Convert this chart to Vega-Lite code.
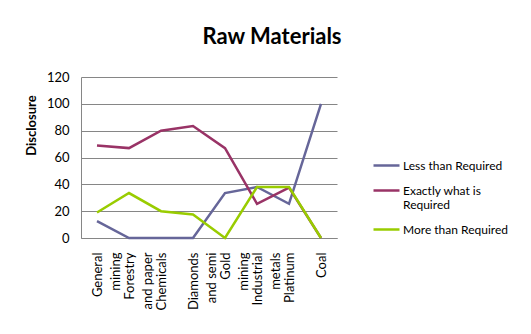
{
  "$schema": "https://vega.github.io/schema/vega-lite/v6.json",
  "width": 256,
  "height": 161,
  "autosize": {"type": "none"},
  "padding": {"left": 81, "top": 77, "right": 194, "bottom": 96},
  "background": "white",
  "title": {
    "text": "Raw Materials",
    "frame": "group",
    "anchor": "middle",
    "dx": 63,
    "offset": 22,
    "font": "Lato",
    "fontSize": 22,
    "fontWeight": "bold",
    "color": "#000000"
  },
  "data": {
    "values": [
      {"category": "General mining", "series": "Less than Required", "value": 12.5},
      {"category": "Forestry and paper", "series": "Less than Required", "value": 0},
      {"category": "Chemicals", "series": "Less than Required", "value": 0},
      {"category": "Diamonds and semi", "series": "Less than Required", "value": 0},
      {"category": "Gold mining", "series": "Less than Required", "value": 33.5},
      {"category": "Industrial metals", "series": "Less than Required", "value": 38},
      {"category": "Platinum", "series": "Less than Required", "value": 25.5},
      {"category": "Coal", "series": "Less than Required", "value": 100},

      {"category": "General mining", "series": "Exactly what is Required", "value": 69},
      {"category": "Forestry and paper", "series": "Exactly what is Required", "value": 67},
      {"category": "Chemicals", "series": "Exactly what is Required", "value": 80},
      {"category": "Diamonds and semi", "series": "Exactly what is Required", "value": 83.5},
      {"category": "Gold mining", "series": "Exactly what is Required", "value": 67},
      {"category": "Industrial metals", "series": "Exactly what is Required", "value": 25.5},
      {"category": "Platinum", "series": "Exactly what is Required", "value": 37.5},
      {"category": "Coal", "series": "Exactly what is Required", "value": 0},

      {"category": "General mining", "series": "More than Required", "value": 19},
      {"category": "Forestry and paper", "series": "More than Required", "value": 33.5},
      {"category": "Chemicals", "series": "More than Required", "value": 20},
      {"category": "Diamonds and semi", "series": "More than Required", "value": 17.5},
      {"category": "Gold mining", "series": "More than Required", "value": 0},
      {"category": "Industrial metals", "series": "More than Required", "value": 38},
      {"category": "Platinum", "series": "More than Required", "value": 38},
      {"category": "Coal", "series": "More than Required", "value": 0}
    ]
  },
  "mark": {"type": "line", "strokeWidth": 2.5, "strokeJoin": "miter"},
  "encoding": {
    "x": {
      "field": "category",
      "type": "nominal",
      "sort": null,
      "scale": {"type": "point", "padding": 0.5},
      "axis": {
        "title": null,
        "labelAngle": -90,
        "labelAlign": "right",
        "labelBaseline": "middle",
        "labelPadding": 14,
        "labelFont": "Lato",
        "labelFontSize": 13,
        "labelColor": "#000000",
        "labelLineHeight": 18,
        "labelExpr": "indexof(datum.value, ' ') > 0 ? [slice(datum.value, 0, indexof(datum.value, ' ')), slice(datum.value, indexof(datum.value, ' ') + 1)] : datum.value",
        "ticks": false,
        "grid": false,
        "domainColor": "#868686",
        "domainWidth": 1
      }
    },
    "y": {
      "field": "value",
      "type": "quantitative",
      "scale": {"domain": [0, 120], "nice": false},
      "axis": {
        "title": "Disclosure",
        "titleFont": "Lato",
        "titleFontSize": 13,
        "titleFontWeight": "bold",
        "titleColor": "#000000",
        "titleAngle": -90,
        "titleX": -50,
        "titleY": 48,
        "titleAlign": "center",
        "titleBaseline": "middle",
        "values": [0, 20, 40, 60, 80, 100, 120],
        "labelFont": "Lato",
        "labelFontSize": 13,
        "labelColor": "#000000",
        "labelPadding": 12,
        "ticks": false,
        "grid": true,
        "gridColor": "#868686",
        "gridWidth": 1,
        "domainColor": "#868686",
        "domainWidth": 1
      }
    },
    "color": {
      "field": "series",
      "type": "nominal",
      "sort": null,
      "scale": {
        "domain": ["Less than Required", "Exactly what is Required", "More than Required"],
        "range": ["#666699", "#993366", "#99CC00"]
      },
      "legend": {
        "title": null,
        "orient": "none",
        "legendX": 291,
        "legendY": 74,
        "symbolType": "stroke",
        "symbolSize": 676,
        "symbolStrokeWidth": 2.5,
        "labelFont": "Lato",
        "labelFontSize": 12,
        "labelColor": "#000000",
        "labelLineHeight": 15,
        "labelOffset": 2,
        "rowPadding": 4,
        "labelExpr": "datum.label == 'Exactly what is Required' ? ['Exactly what is', 'Required'] : datum.label"
      }
    }
  },
  "config": {
    "view": {"stroke": null}
  }
}
